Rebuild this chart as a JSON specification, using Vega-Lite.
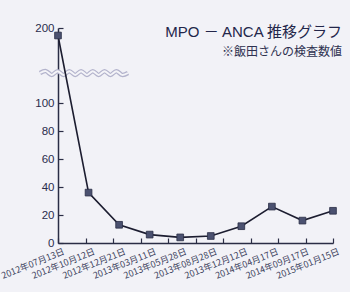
{
  "$schema": "https://vega.github.io/schema/vega-lite/v6.json",
  "width": 275,
  "height": 215,
  "autosize": "none",
  "padding": {"left": 58, "top": 28, "right": 17, "bottom": 49},
  "background": "#f2f2f7",
  "config": {
    "view": {"stroke": null},
    "axis": {"grid": false, "title": null}
  },
  "title": {
    "text": "MPO － ANCA 推移グラフ",
    "subtitle": "※飯田さんの検査数値",
    "anchor": "end",
    "frame": "group",
    "offset": -36,
    "dx": 9,
    "font": "Liberation Sans, Noto Sans CJK JP",
    "fontSize": 15,
    "fontWeight": 400,
    "color": "#23264a",
    "subtitleFont": "Noto Sans CJK JP",
    "subtitleFontSize": 12,
    "subtitleColor": "#2e3150",
    "subtitlePadding": 7
  },
  "datasets": {
    "mpo": [
      {"date": "2012年07月13日", "value": 190},
      {"date": "2012年10月12日", "value": 36},
      {"date": "2012年12月21日", "value": 13},
      {"date": "2013年03月11日", "value": 6},
      {"date": "2013年05月28日", "value": 4},
      {"date": "2013年08月28日", "value": 5},
      {"date": "2013年12月12日", "value": 12},
      {"date": "2014年04月17日", "value": 26},
      {"date": "2014年09月17日", "value": 16},
      {"date": "2015年01月15日", "value": 23}
    ],
    "wave": [
      {"wx": 0, "value": 140},
      {"wx": 1, "value": 142.5},
      {"wx": 2, "value": 137.5},
      {"wx": 3, "value": 142.5},
      {"wx": 4, "value": 137.5},
      {"wx": 5, "value": 142.5},
      {"wx": 6, "value": 137.5},
      {"wx": 7, "value": 142.5},
      {"wx": 8, "value": 137.5},
      {"wx": 9, "value": 142.5},
      {"wx": 10, "value": 137.5},
      {"wx": 11, "value": 142.5},
      {"wx": 12, "value": 137.5},
      {"wx": 13, "value": 142.5},
      {"wx": 14, "value": 137.5},
      {"wx": 15, "value": 140}
    ]
  },
  "encoding": {
    "y": {
      "field": "value", "type": "quantitative",
      "scale": {"domain": [0, 100, 200], "range": [215, 75, 0], "nice": false},
      "axis": {
        "values": [0, 20, 40, 60, 80, 100, 200],
        "tickSize": -5,
        "tickWidth": 1.2,
        "tickColor": "#2a2d45",
        "domainColor": "#2a2d45",
        "domainWidth": 1.5,
        "labelPadding": 9,
        "labelOverlap": false,
        "labelFont": "Liberation Sans",
        "labelFontSize": 11.5,
        "labelColor": "#2a2d4d",
        "title": null
      }
    }
  },
  "layer": [
    {
      "data": {"name": "wave"},
      "encoding": {
        "x": {"field": "wx", "type": "quantitative", "scale": {"domain": [0, 15], "range": [-18, 70]}, "axis": null}
      },
      "layer": [
        {"mark": {"type": "line", "interpolate": "cardinal", "stroke": "#b3b3cc", "strokeWidth": 4.5}},
        {"mark": {"type": "line", "interpolate": "cardinal", "stroke": "#f4f4f8", "strokeWidth": 2}}
      ]
    },
    {
      "data": {"name": "mpo"},
      "mark": {"type": "point", "opacity": 0},
      "encoding": {
        "x": {
          "field": "date", "type": "ordinal", "sort": null,
          "scale": {"type": "band", "paddingInner": 0, "paddingOuter": 0},
          "axis": {
            "orient": "bottom",
            "tickBand": "extent",
            "tickSize": -5,
            "tickColor": "#2a2d45",
            "tickWidth": 1.2,
            "domainColor": "#2a2d45",
            "domainWidth": 1.5,
            "labels": false,
            "title": null
          }
        }
      }
    },
    {
      "data": {"name": "mpo"},
      "encoding": {
        "x": {
          "field": "date", "type": "ordinal", "sort": null,
          "scale": {"type": "point", "padding": 0},
          "axis": {
            "orient": "bottom",
            "ticks": false,
            "tickSize": 0,
            "domain": false,
            "labelAngle": -22,
            "labelAlign": "right",
            "labelBaseline": "top",
            "labelPadding": 4,
            "labelOffset": 4,
            "labelOverlap": false,
            "labelFont": "Noto Sans CJK JP",
            "labelFontSize": 9,
            "labelColor": "#3c3f5c",
            "title": null
          }
        }
      },
      "layer": [
        {"mark": {"type": "line", "stroke": "#1c1d30", "strokeWidth": 1.6}},
        {"mark": {"type": "point", "shape": "square", "filled": true, "size": 45, "fill": "#4b5170", "stroke": "#2a2d45", "strokeWidth": 0.8, "opacity": 1}}
      ]
    }
  ],
  "resolve": {"scale": {"x": "independent"}}
}
